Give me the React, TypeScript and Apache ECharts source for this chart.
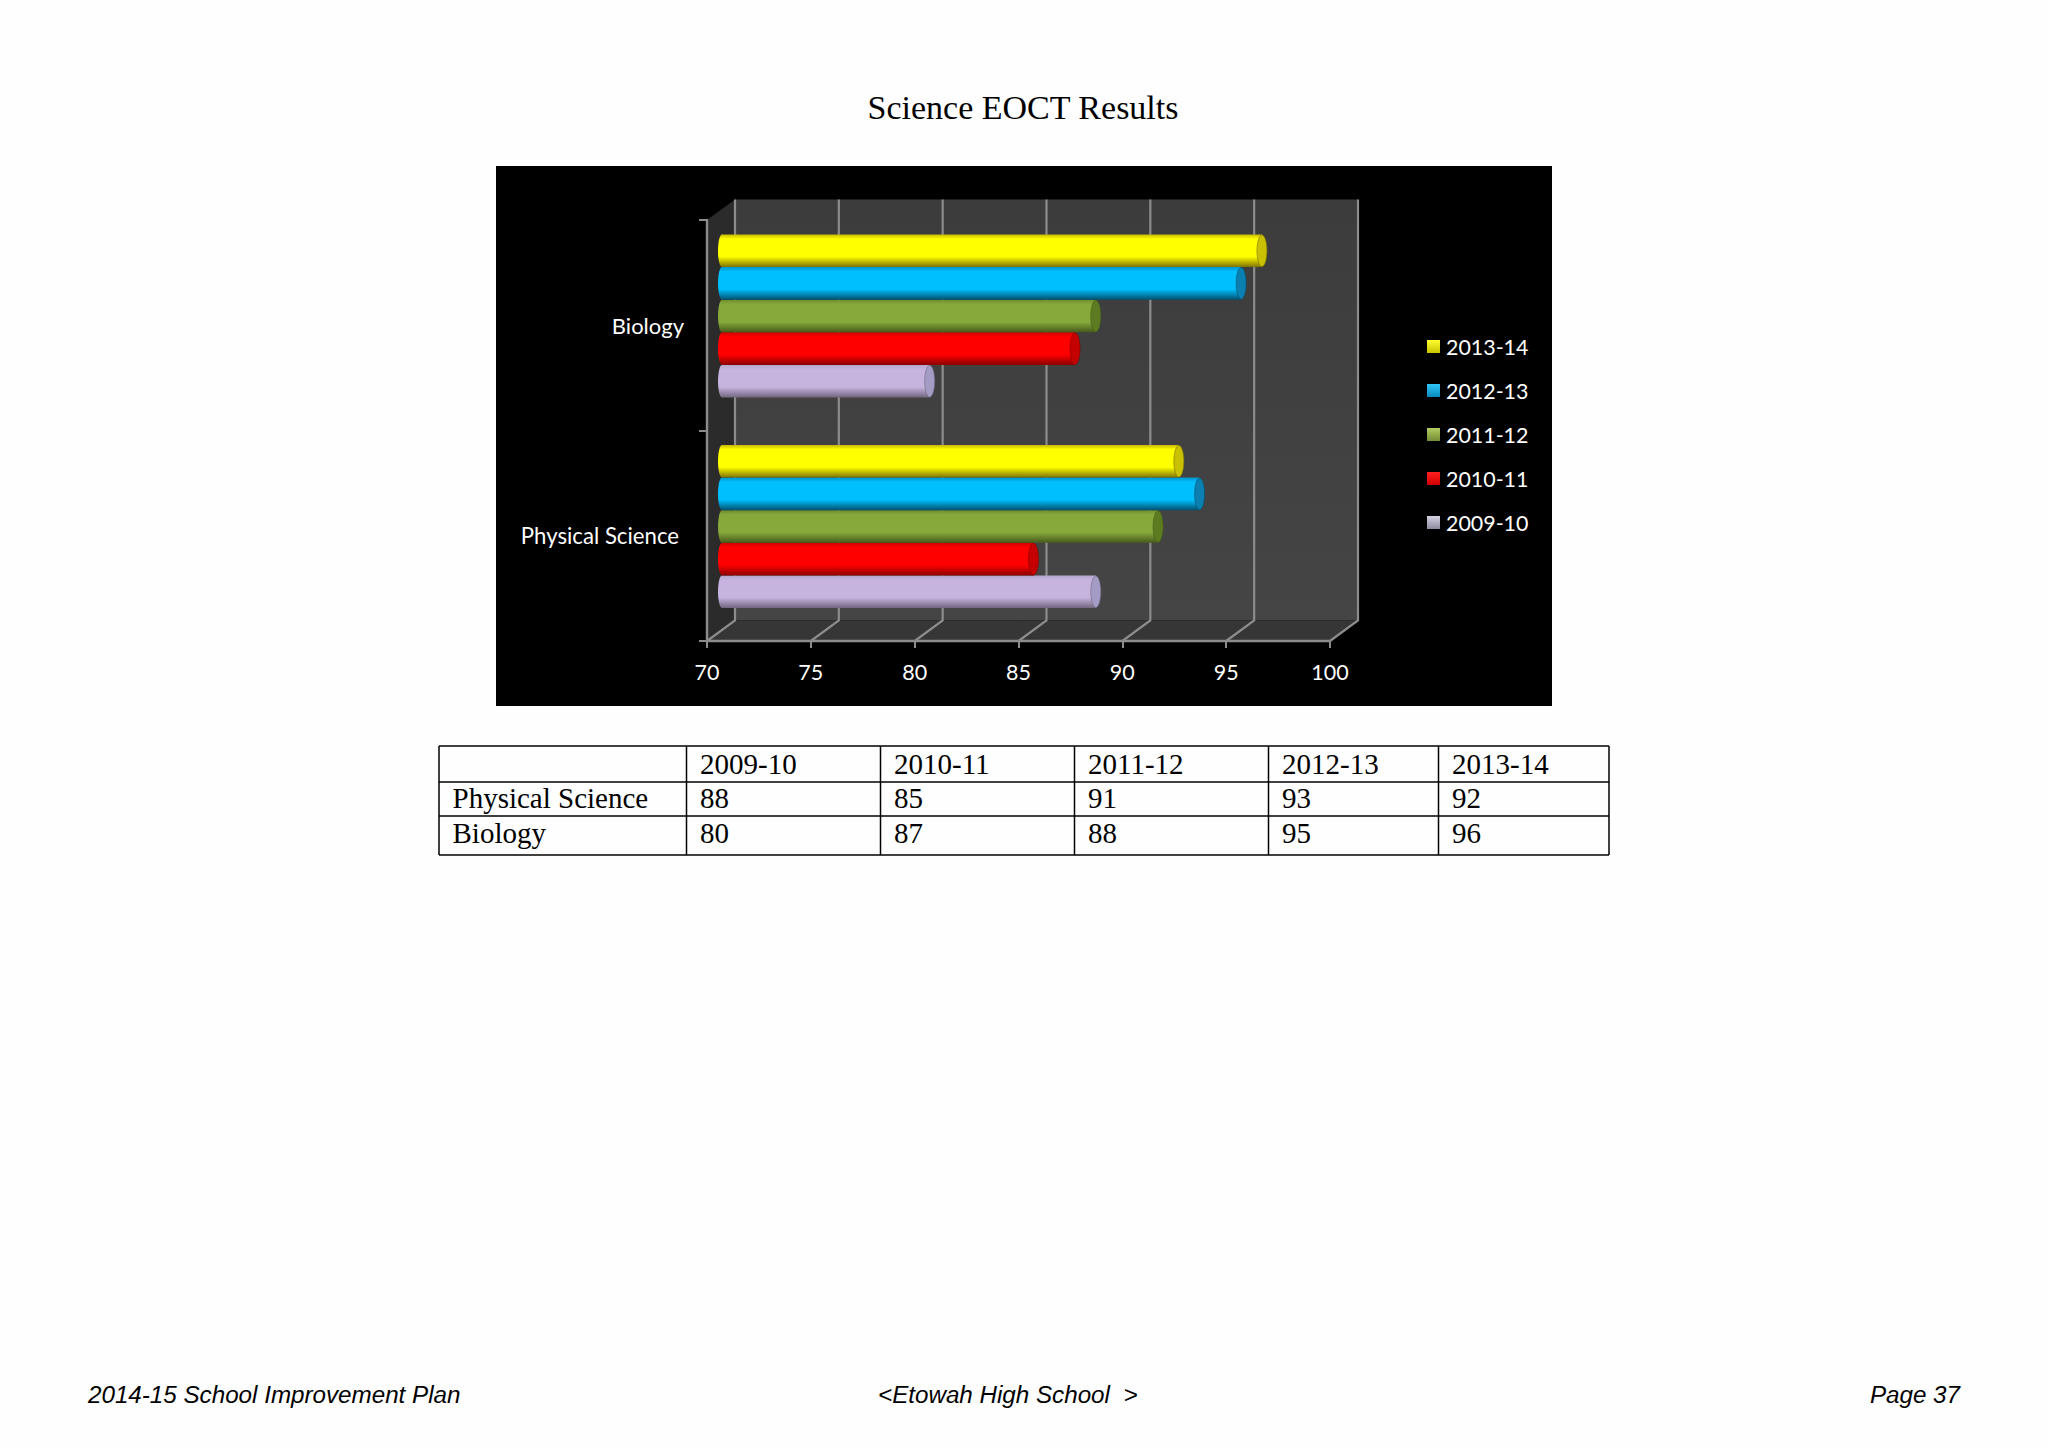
import React, { useEffect, useRef } from "react";
import * as echarts from "echarts";

const categories = ["Physical Science", "Biology"];
const years = ["2009-10", "2010-11", "2011-12", "2012-13", "2013-14"];
const physicalScience = [88, 85, 91, 93, 92];
const biology = [80, 87, 88, 95, 96];
const xTicks = [70, 75, 80, 85, 90, 95, 100];

const pageTitle = "Science EOCT Results";
const footerLeft = "2014-15 School Improvement Plan";
const footerCenter = "<Etowah High School  >";
const footerRight = "Page 37";

// colour ramps: [edge, main, shade, cap], per year
const ramps: Record<string, string[]> = {
  "2009-10": ["#b5a6cc", "#c6b4de", "#71667f", "#a49cc4"],
  "2010-11": ["#d00000", "#ff0000", "#8a0000", "#c40000"],
  "2011-12": ["#6e8c2c", "#87a93b", "#465a1b", "#5d7c22"],
  "2012-13": ["#0094cc", "#00bfff", "#00506e", "#0a7fb0"],
  "2013-14": ["#c8b800", "#ffff00", "#7d7200", "#c8c000"],
};
const legendFill: Record<string, string[]> = {
  "2009-10": ["#d6d2e4", "#8d8aa0"],
  "2010-11": ["#ff2020", "#d00000"],
  "2011-12": ["#b4cc60", "#728c34"],
  "2012-13": ["#30c8f8", "#0a88c0"],
  "2013-14": ["#ffff30", "#c8c400"],
};

// table layout
const colX = [439, 686.5, 880.5, 1074.5, 1268.5, 1438.5, 1609];
const rowY = [746, 782, 816, 855];
const rowMidY = [763.5, 798, 832.5];
const cellPad = 13.5;

const depthX = 28; // floor depth of the 3D box
const depthY = 20.5;
const capRx = 5;

function wallsRender(params: any, api: any) {
  const cs = params.coordSys;
  const top = cs.y;
  const bottom = cs.y + cs.height;
  const xs = xTicks.map((t) => api.coord([t, 0])[0]);
  const x0 = xs[0];
  const x1 = xs[xs.length - 1];
  const gridStroke = "#8c8c8c";
  const children: any[] = [
    {
      type: "polygon",
      shape: { points: [[x0, top], [x0 + depthX, top - depthY], [x0 + depthX, bottom - depthY], [x0, bottom]] },
      style: { fill: "#2b2b2b" },
    },
    {
      type: "rect",
      shape: { x: x0 + depthX, y: top - depthY, width: x1 - x0, height: bottom - top },
      style: {
        fill: new echarts.graphic.LinearGradient(0, 0, 0, 1, [
          { offset: 0, color: "#3c3c3c" },
          { offset: 1, color: "#454545" },
        ]),
      },
    },
    {
      type: "polygon",
      shape: { points: [[x0, bottom], [x0 + depthX, bottom - depthY], [x1 + depthX, bottom - depthY], [x1, bottom]] },
      style: { fill: "#363636" },
    },
  ];
  xs.forEach((x) => {
    children.push({
      type: "polyline",
      shape: { points: [[x, bottom], [x + depthX, bottom - depthY], [x + depthX, top - depthY]] },
      style: { stroke: gridStroke, lineWidth: 2.2, fill: "none" },
    });
  });
  return { type: "group", children };
}

function barRender(yearIndex: number) {
  return (params: any, api: any) => {
    const year = years[yearIndex];
    const [edge, main, shade, cap] = ramps[year];
    const end = api.coord([api.value(0), api.value(1)]);
    const start = api.coord([xTicks[0], api.value(1)]);
    const band = api.size([0, 1])[1];
    const h = band * 0.155;
    const cy = end[1] - depthY / 2 + 1 - (yearIndex - 2) * h;
    const x0 = start[0] + depthX / 2;
    const x1 = end[0] + depthX / 2 + 1;
    const fill = new echarts.graphic.LinearGradient(0, 0, 0, 1, [
      { offset: 0, color: edge },
      { offset: 0.14, color: main },
      { offset: 0.68, color: main },
      { offset: 1, color: shade },
    ]);
    return {
      type: "group",
      children: [
        {
          type: "ellipse",
          shape: { cx: x0 + 1, cy, rx: capRx - 1, ry: h / 2 },
          style: { fill },
        },
        {
          type: "rect",
          shape: { x: x0 + 1, y: cy - h / 2, width: x1 - x0 - 1, height: h },
          style: { fill },
        },
        {
          type: "ellipse",
          shape: { cx: x1, cy, rx: capRx, ry: h / 2 - 0.5 },
          style: { fill: cap, stroke: shade, lineWidth: 0.6 },
        },
      ],
    };
  };
}

function buildGraphic() {
  const out: any[] = [
    { type: "rect", z: -1, shape: { x: 496, y: 166, width: 1056, height: 540 }, style: { fill: "#000000" } },
  ];
  const stroke = "#000000";
  rowY.forEach((y) => {
    out.push({ type: "line", shape: { x1: colX[0], y1: y, x2: colX[colX.length - 1], y2: y }, style: { stroke, lineWidth: 1.5 } });
  });
  colX.forEach((x) => {
    out.push({ type: "line", shape: { x1: x, y1: rowY[0], x2: x, y2: rowY[rowY.length - 1] }, style: { stroke, lineWidth: 1.5 } });
  });
  const cellStyle = { fill: "#000000", font: "29px 'Liberation Serif'", verticalAlign: "middle", align: "left" };
  const rows = [
    ["", ...years],
    [categories[0], ...physicalScience.map(String)],
    [categories[1], ...biology.map(String)],
  ];
  rows.forEach((row, r) =>
    row.forEach((cell, c) => {
      if (!cell) return;
      out.push({ type: "text", x: colX[c] + cellPad, y: rowMidY[r], style: { ...cellStyle, text: cell } });
    })
  );
  const footStyle = { fill: "#000000", font: "italic 24.2px 'Liberation Sans'", verticalAlign: "middle" };
  out.push({ type: "text", x: 88, y: 1394, style: { ...footStyle, text: footerLeft, align: "left" } });
  out.push({ type: "text", x: 878, y: 1394, style: { ...footStyle, text: footerCenter, align: "left" } });
  out.push({ type: "text", x: 1960, y: 1394, style: { ...footStyle, text: footerRight, align: "right" } });
  return out;
}

export default function App() {
  const ref = useRef<HTMLDivElement>(null);
  useEffect(() => {
    const chart = echarts.init(ref.current!, undefined, { renderer: "svg" });
    const axisGray = "#8c8c8c";
    const series: any[] = [
      { type: "custom", name: "walls", z: 1, silent: true, data: [[70, 0]], encode: { x: 0, y: 1 }, renderItem: wallsRender },
      ...years.map((y, i) => ({
        type: "custom",
        name: y,
        z: 4,
        silent: true,
        itemStyle: { color: ramps[y][1] },
        encode: { x: 0, y: 1 },
        data: [
          [physicalScience[i], 0],
          [biology[i], 1],
        ],
        renderItem: barRender(i),
      })),
    ];
    chart.setOption({
      animation: false,
      backgroundColor: "#fefefe",
      title: {
        text: pageTitle,
        left: 1018,
        top: 85,
        textAlign: "center",
        textStyle: { fontFamily: "Liberation Serif", fontSize: 34, fontWeight: "normal", color: "#000000" },
      },
      grid: { left: 707, right: 718, top: 220, bottom: 807, containLabel: false },
      xAxis: {
        type: "value",
        min: 70,
        max: 100,
        interval: 5,
        z: 3,
        splitLine: { show: false },
        axisLine: { show: true, lineStyle: { color: axisGray, width: 2.4 } },
        axisTick: { show: true, length: 7, lineStyle: { color: axisGray, width: 2 } },
        axisLabel: { color: "#ffffff", fontFamily: "Lato", fontSize: 21.5, margin: 20 },
      },
      yAxis: {
        type: "category",
        data: categories,
        z: 3,
        axisLine: { show: true, lineStyle: { color: axisGray, width: 2.4 } },
        axisTick: { show: true, length: 8, lineStyle: { color: axisGray, width: 2 } },
        axisLabel: {
          margin: 23,
          color: "#ffffff",
          fontFamily: "Lato",
          fontSize: 22,
          formatter: (v: string) => (v === categories[0] ? `{p|${v}}` : `{b|${v}}`),
          rich: {
            p: { color: "#ffffff", fontFamily: "Lato", fontSize: 22.2, padding: [0, 5, 0, 0] },
            b: { color: "#ffffff", fontFamily: "Lato", fontSize: 22 },
          },
        },
      },
      legend: {
        orient: "vertical",
        left: 1427,
        top: 336,
        padding: 0,
        itemWidth: 13,
        itemHeight: 13,
        itemGap: 23,
        selectedMode: false,
        textStyle: { color: "#ffffff", fontFamily: "Lato", fontSize: 21.4, lineHeight: 20, padding: [0, 0, 0, 1] },
        data: [...years].reverse().map((y) => ({
          name: y,
          icon: "rect",
          itemStyle: {
            color: new echarts.graphic.LinearGradient(0, 0, 0, 1, [
              { offset: 0, color: legendFill[y][0] },
              { offset: 1, color: legendFill[y][1] },
            ]),
          },
        })),
      },
      graphic: { elements: buildGraphic() },
      series,
    });
    return () => chart.dispose();
  }, []);
  return <div ref={ref} style={{ position: "absolute", left: 0, top: 0, width: 2048, height: 1448 }} />;
}
